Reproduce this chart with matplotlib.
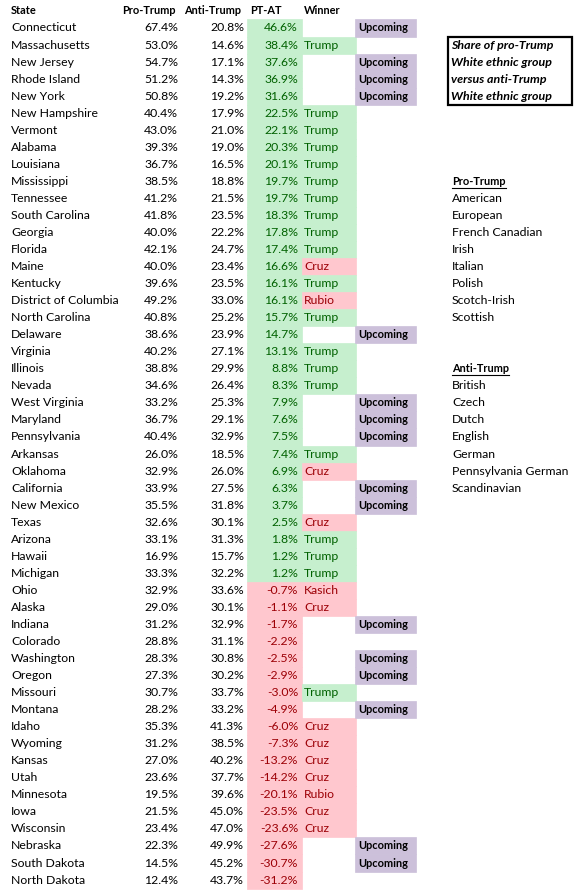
import matplotlib
matplotlib.use("Agg")
import matplotlib.pyplot as plt
from matplotlib.patches import Rectangle
import numpy as np

# Table data
states = ["Connecticut", "Massachusetts", "New Jersey", "Rhode Island", "New York",
          "New Hampshire", "Vermont", "Alabama", "Louisiana", "Mississippi",
          "Tennessee", "South Carolina", "Georgia", "Florida", "Maine", "Kentucky",
          "District of Columbia", "North Carolina", "Delaware", "Virginia", "Illinois",
          "Nevada", "West Virginia", "Maryland", "Pennsylvania", "Arkansas", "Oklahoma",
          "California", "New Mexico", "Texas", "Arizona", "Hawaii", "Michigan", "Ohio",
          "Alaska", "Indiana", "Colorado", "Washington", "Oregon", "Missouri", "Montana",
          "Idaho", "Wyoming", "Kansas", "Utah", "Minnesota", "Iowa", "Wisconsin",
          "Nebraska", "South Dakota", "North Dakota"]
pro_trump = [67.4, 53.0, 54.7, 51.2, 50.8, 40.4, 43.0, 39.3, 36.7, 38.5,
             41.2, 41.8, 40.0, 42.1, 40.0, 39.6, 49.2, 40.8, 38.6, 40.2,
             38.8, 34.6, 33.2, 36.7, 40.4, 26.0, 32.9, 33.9, 35.5, 32.6,
             33.1, 16.9, 33.3, 32.9, 29.0, 31.2, 28.8, 28.3, 27.3, 30.7,
             28.2, 35.3, 31.2, 27.0, 23.6, 19.5, 21.5, 23.4, 22.3, 14.5, 12.4]
anti_trump = [20.8, 14.6, 17.1, 14.3, 19.2, 17.9, 21.0, 19.0, 16.5, 18.8,
              21.5, 23.5, 22.2, 24.7, 23.4, 23.5, 33.0, 25.2, 23.9, 27.1,
              29.9, 26.4, 25.3, 29.1, 32.9, 18.5, 26.0, 27.5, 31.8, 30.1,
              31.3, 15.7, 32.2, 33.6, 30.1, 32.9, 31.1, 30.8, 30.2, 33.7,
              33.2, 41.3, 38.5, 40.2, 37.7, 39.6, 45.0, 47.0, 49.9, 45.2, 43.7]
pt_at = [46.6, 38.4, 37.6, 36.9, 31.6, 22.5, 22.1, 20.3, 20.1, 19.7,
         19.7, 18.3, 17.8, 17.4, 16.6, 16.1, 16.1, 15.7, 14.7, 13.1,
         8.8, 8.3, 7.9, 7.6, 7.5, 7.4, 6.9, 6.3, 3.7, 2.5,
         1.8, 1.2, 1.2, -0.7, -1.1, -1.7, -2.2, -2.5, -2.9, -3.0,
         -4.9, -6.0, -7.3, -13.2, -14.2, -20.1, -23.5, -23.6, -27.6, -30.7, -31.2]
winner = ["", "Trump", "", "", "", "Trump", "Trump", "Trump", "Trump", "Trump",
          "Trump", "Trump", "Trump", "Trump", "Cruz", "Trump", "Rubio", "Trump", "", "Trump",
          "Trump", "Trump", "", "", "", "Trump", "Cruz", "", "", "Cruz",
          "Trump", "Trump", "Trump", "Kasich", "Cruz", "", "", "", "", "Trump",
          "", "Cruz", "Cruz", "Cruz", "Cruz", "Rubio", "Cruz", "Cruz", "", "", ""]
upcoming = ["Connecticut", "New Jersey", "Rhode Island", "New York", "Delaware",
            "West Virginia", "Maryland", "Pennsylvania", "California", "New Mexico",
            "Indiana", "Washington", "Oregon", "Montana", "Nebraska", "South Dakota"]
headers = ["State", "Pro-Trump", "Anti-Trump", "PT-AT", "Winner"]

note_lines = ["Share of pro-Trump", "White ethnic group", "versus anti-Trump", "White ethnic group"]
pro_groups = ["American", "European", "French Canadian", "Irish", "Italian",
              "Polish", "Scotch-Irish", "Scottish"]
anti_groups = ["British", "Czech", "Dutch", "English", "German",
               "Pennsylvania German", "Scandinavian"]

GREEN_BG = "#c6efce"
GREEN_TX = "#006100"
RED_BG = "#ffc7ce"
RED_TX = "#9c0006"
PURPLE = "#ccc0da"
FONT = "Lato"
fs = 8.8      # regular text
fsb = 7.9     # bold text
fsi = 8.9     # bold italic note

fig = plt.figure(figsize=(5.85, 8.93), dpi=100)
ax = fig.add_axes([0, 0, 1, 1])
ax.set_xlim(0, 585)
ax.set_ylim(51.76, -0.643)
ax.axis("off")

rows = np.arange(1, len(states) + 1)
pt = np.array(pt_at)
has_win = np.array([w != "" for w in winner])
is_up = np.array([s in upcoming for s in states])

# cell fills
pt_bg = [GREEN_BG if v >= 0 else RED_BG for v in pt]
ax.barh(rows, 55, left=247, height=1.0, color=pt_bg, edgecolor=pt_bg, linewidth=0.5)
win_bg = [GREEN_BG if w == "Trump" else RED_BG for w in np.array(winner)[has_win]]
ax.barh(rows[has_win], 54, left=302, height=1.0, color=win_bg, edgecolor=win_bg, linewidth=0.5)
ax.barh(rows[is_up], 61, left=355, height=1.0, color=PURPLE, edgecolor=PURPLE, linewidth=0.5)

# header
hx = [11, 122, 184, 250, 304]
for x, h in zip(hx, headers):
    ax.text(x, 0, h, ha="left", va="center", fontsize=fsb, fontweight="bold", family=FONT)

# body
for r, s, p, a, d, w, u in zip(rows, states, pro_trump, anti_trump, pt_at, winner, is_up):
    ax.text(11, r, s, ha="left", va="center", fontsize=fs, family=FONT)
    ax.text(178, r, f"{p:.1f}%", ha="right", va="center", fontsize=fs, family=FONT)
    ax.text(244, r, f"{a:.1f}%", ha="right", va="center", fontsize=fs, family=FONT)
    ax.text(298, r, f"{d:.1f}%", ha="right", va="center", fontsize=fs, family=FONT,
            color=GREEN_TX if d >= 0 else RED_TX)
    if w:
        ax.text(304, r, w, ha="left", va="center", fontsize=fs, family=FONT,
                color=GREEN_TX if w == "Trump" else RED_TX)
    if u:
        ax.text(358, r, "Upcoming", ha="left", va="center", fontsize=fsb,
                fontweight="bold", family=FONT)

# note box
ax.add_patch(Rectangle((448, 1.5), 124, 4, fill=False, edgecolor="black", linewidth=1.6))
for i, line in enumerate(note_lines):
    ax.text(451, 2 + i, line, ha="left", va="center", fontsize=fsi,
            fontweight="bold", style="italic", family=FONT)

# ethnic group lists
fig.canvas.draw()
renderer = fig.canvas.get_renderer()


def heading(row, label):
    t = ax.text(452, row, label, ha="left", va="center", fontsize=fsb,
                fontweight="bold", family=FONT)
    bb = t.get_window_extent(renderer).transformed(ax.transData.inverted())
    ax.plot([bb.x0, bb.x1], [row + 0.38, row + 0.38], color="black", linewidth=0.8)


heading(10, "Pro-Trump")
for i, g in enumerate(pro_groups):
    ax.text(452, 11 + i, g, ha="left", va="center", fontsize=fs, family=FONT)
heading(21, "Anti-Trump")
for i, g in enumerate(anti_groups):
    ax.text(452, 22 + i, g, ha="left", va="center", fontsize=fs, family=FONT)

fig.savefig("out.png", dpi=100)
